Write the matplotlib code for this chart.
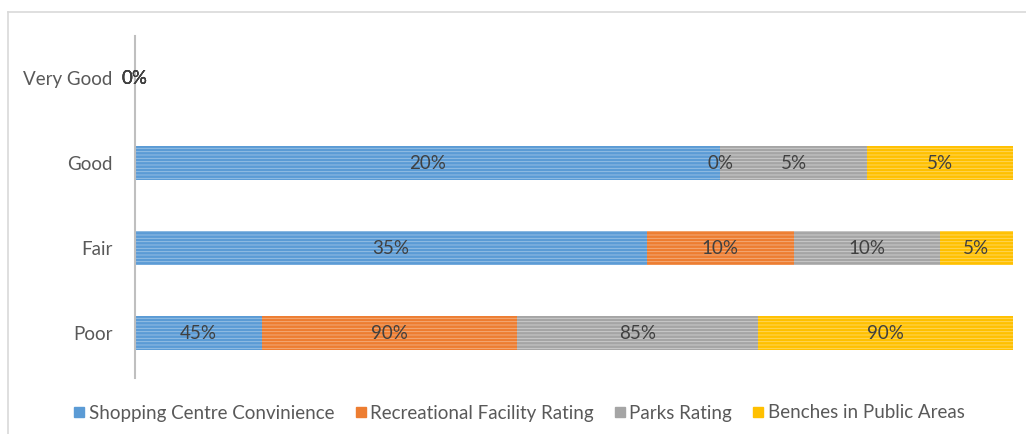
import numpy as np
import matplotlib
matplotlib.use('Agg')
import matplotlib.pyplot as plt
from matplotlib.lines import Line2D

plt.rcParams['font.family'] = ['Lato', 'DejaVu Sans']
plt.rcParams['hatch.linewidth'] = 0.6

# 数据
categories = ['Poor', 'Fair', 'Good', 'Very Good']
series_names = ['Shopping Centre Convinience', 'Recreational Facility Rating',
                'Parks Rating', 'Benches in Public Areas']
shopping = [45, 35, 20, 0]
recreational = [90, 10, 0, 0]
parks = [85, 10, 5, 0]
benches = [90, 5, 5, 0]

colors = ['#5B9BD5', '#ED7D31', '#A5A5A5', '#FFC000']
stripe_colors = ['#9DC3E6', '#F4B183', '#D0D0D0', '#FFD966']
text_color = '#595959'

values = np.array([shopping, recreational, parks, benches], dtype=float)
totals = values.sum(axis=0)
shares = np.divide(values, totals, out=np.zeros_like(values), where=totals > 0)

fig = plt.figure(figsize=(10.26, 4.34), dpi=100)
ax = fig.add_axes([135 / 1026, 1 - 378 / 434, (1013 - 135) / 1026, (378 - 36) / 434])

y = np.arange(len(categories))
left = np.zeros(len(categories))
for i, name in enumerate(series_names):
    ax.barh(y, shares[i], left=left, height=0.4, color=colors[i],
            edgecolor=stripe_colors[i], linewidth=0, hatch='-----', label=name)
    for j in range(len(categories)):
        ax.text(left[j] + shares[i][j] / 2, y[j], f'{int(values[i][j])}%',
                ha='center', va='center', fontsize=13.5, color='#404040')
    left += shares[i]

ax.set_xlim(0, 1)
ax.set_ylim(-0.53, 3.5)
ax.set_yticks(y)
ax.set_yticklabels(categories, fontsize=13.5, color=text_color)
ax.tick_params(axis='y', length=0, pad=16)
ax.set_xticks([])
for s in ['top', 'right', 'bottom']:
    ax.spines[s].set_visible(False)
ax.spines['left'].set_color('#BFBFBF')
ax.spines['left'].set_linewidth(1.5)

# 图例
handles = [Line2D([], [], marker='s', linestyle='', markersize=7,
                  markerfacecolor=c, markeredgecolor=c) for c in colors]
fig.legend(handles, series_names, loc='center', bbox_to_anchor=(0.505, 1 - 413 / 434),
           ncol=4, frameon=False, fontsize=13.5, labelcolor=text_color,
           handletextpad=0.1, columnspacing=1.0, handlelength=0.8)

# 外框
fig.add_artist(Line2D([8 / 1026, 8 / 1026], [0, 1 - 12 / 434], color='#D9D9D9', lw=1.2))
fig.add_artist(Line2D([8 / 1026, 1], [1 - 12 / 434, 1 - 12 / 434], color='#D9D9D9', lw=1.2))

fig.savefig('out.png', dpi=100)
